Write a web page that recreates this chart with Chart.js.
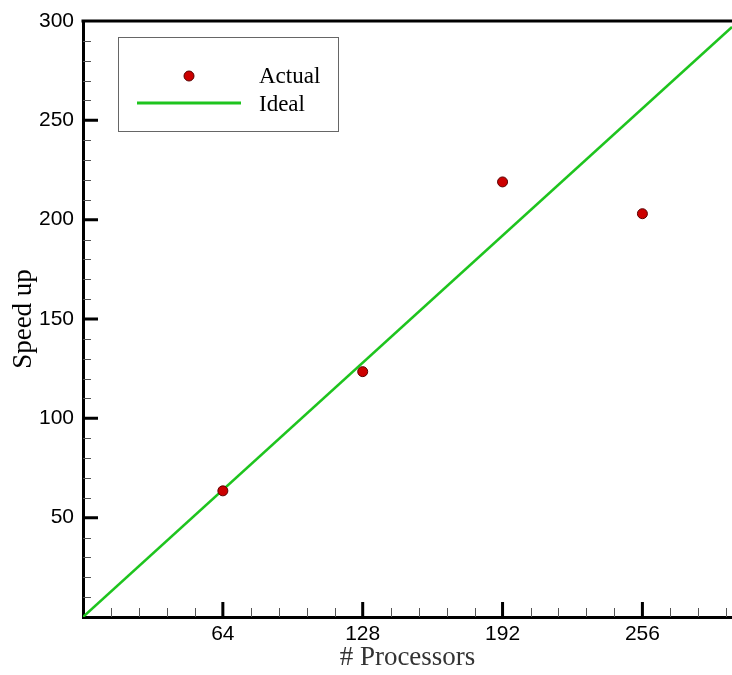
<!DOCTYPE html>
<html>
<head>
<meta charset="utf-8">
<script src="https://cdn.jsdelivr.net/npm/chart.js@4/dist/chart.umd.min.js"></script>
<style>
  html, body { margin: 0; padding: 0; background: #fff; }
  canvas { display: block; }
</style>
</head>
<body>
<canvas id="chart" width="732" height="675"></canvas>
<script>
const processors = [64, 128, 192, 256];
const actualSpeedup = [63.5, 123.5, 219, 203];
const idealX = [0, 297];
const idealY = [0, 297];
const xTickValues = [64, 128, 192, 256];
const yTickValues = [50, 100, 150, 200, 250, 300];

const GREEN = "#1ec41e";
const RED = "#cc0000";

// inward major/minor ticks, top border and the boxed legend
const frame = {
    id: "frame",
    afterDraw(chart) {
        const c = chart.ctx, a = chart.chartArea;
        const xs = chart.scales.x, ys = chart.scales.y;
        c.save();
        c.strokeStyle = "#000";
        c.lineWidth = 3;
        c.beginPath();
        c.moveTo(a.left - 1.5, a.top);
        c.lineTo(a.right, a.top);
        c.stroke();

        // minor ticks
        c.strokeStyle = "#555";
        c.lineWidth = 1;
        c.beginPath();
        for (let v = 0; v <= xs.max; v += 12.8) {
            if (v === 0 || xTickValues.some(t => Math.abs(t - v) < 0.01)) continue;
            const px = Math.round(xs.getPixelForValue(v)) + 0.5;
            c.moveTo(px, a.bottom);
            c.lineTo(px, a.bottom - 9);
        }
        for (let v = 10; v < ys.max; v += 10) {
            if (v % 50 === 0) continue;
            const py = Math.round(ys.getPixelForValue(v)) + 0.5;
            c.moveTo(a.left, py);
            c.lineTo(a.left + 8, py);
        }
        c.stroke();

        // major ticks
        c.strokeStyle = "#000";
        c.lineWidth = 3;
        c.beginPath();
        xTickValues.forEach(v => {
            const px = xs.getPixelForValue(v);
            c.moveTo(px, a.bottom);
            c.lineTo(px, a.bottom - 15);
        });
        yTickValues.forEach(v => {
            if (v >= ys.max) return;
            const py = ys.getPixelForValue(v);
            c.moveTo(a.left, py);
            c.lineTo(a.left + 15, py);
        });
        c.stroke();

        // legend
        c.fillStyle = "#fff";
        c.fillRect(118.5, 37.5, 220, 94);
        c.strokeStyle = "#666";
        c.lineWidth = 1;
        c.strokeRect(118.5, 37.5, 220, 94);
        const ds = chart.data.datasets;
        c.beginPath();
        c.arc(189, 76, 5, 0, Math.PI * 2);
        c.fillStyle = ds[0].pointBackgroundColor;
        c.fill();
        c.strokeStyle = ds[0].pointBorderColor;
        c.stroke();
        c.beginPath();
        c.moveTo(137, 103);
        c.lineTo(241, 103);
        c.strokeStyle = ds[1].borderColor;
        c.lineWidth = 3;
        c.stroke();
        c.fillStyle = "#000";
        c.font = "23px 'Liberation Serif', serif";
        c.textBaseline = "alphabetic";
        c.fillText(ds[0].label, 259, 83);
        c.fillText(ds[1].label, 259, 111);
        c.restore();
    }
};

new Chart(document.getElementById("chart"), {
    type: "scatter",
    data: {
        datasets: [
            {
                label: "Actual",
                data: processors.map((p, i) => ({ x: p, y: actualSpeedup[i] })),
                pointRadius: 5,
                pointBackgroundColor: RED,
                pointBorderColor: "#5a0000",
                pointBorderWidth: 1,
                showLine: false
            },
            {
                label: "Ideal",
                data: idealX.map((x, i) => ({ x: x, y: idealY[i] })),
                showLine: true,
                borderColor: GREEN,
                borderWidth: 2.5,
                pointRadius: 0,
                order: 1
            }
        ]
    },
    options: {
        responsive: false,
        animation: false,
        devicePixelRatio: 1,
        layout: { autoPadding: false, padding: { top: 21, right: 0, bottom: 0, left: 0 } },
        plugins: {
            legend: { display: false },
            tooltip: { enabled: false }
        },
        scales: {
            x: {
                type: "linear",
                min: 0,
                max: 297,
                afterBuildTicks: s => { s.ticks = xTickValues.map(v => ({ value: v })); },
                afterFit: s => { s.height = 58; s.paddingLeft = 0; s.paddingRight = 0; },
                grid: { display: false },
                border: { display: true, color: "#000", width: 3 },
                ticks: {
                    color: "#000",
                    padding: -3,
                    maxRotation: 0,
                    font: { family: "'Liberation Sans', Arial, sans-serif", size: 21 }
                },
                title: {
                    display: true,
                    text: "# Processors",
                    color: "#333",
                    padding: { top: 0, bottom: 1 },
                    font: { family: "'Liberation Serif', serif", size: 27 }
                }
            },
            y: {
                type: "linear",
                min: 0,
                max: 300,
                afterBuildTicks: s => { s.ticks = yTickValues.map(v => ({ value: v })); },
                afterFit: s => { s.width = 83; },
                grid: { display: false },
                border: { display: true, color: "#000", width: 3 },
                ticks: {
                    color: "#000",
                    padding: 1,
                    font: { family: "'Liberation Sans', Arial, sans-serif", size: 21 }
                },
                title: {
                    display: true,
                    text: "Speed up",
                    color: "#000",
                    padding: { top: 8, bottom: 0 },
                    font: { family: "'Liberation Serif', serif", size: 27 }
                }
            }
        }
    },
    plugins: [frame]
});
</script>
</body>
</html>
